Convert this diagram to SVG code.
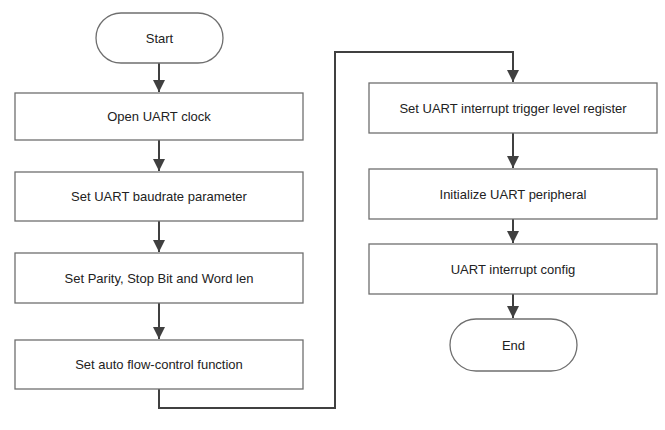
<svg xmlns="http://www.w3.org/2000/svg" width="665" height="430" viewBox="0 0 665 430">
<style>
.box{fill:#fff;stroke:#6f6f6f;stroke-width:1.3}
.t{font-family:"Liberation Sans",Arial,sans-serif;font-size:13px;fill:#222;text-anchor:middle;dominant-baseline:central}
.c{fill:none;stroke:#404040;stroke-width:2}
</style>
<defs>
<marker id="ah" markerWidth="12" markerHeight="12" viewBox="0 0 12 12" refX="12" refY="6" orient="auto" markerUnits="userSpaceOnUse">
<path d="M0,0 L12,6 L0,12 Z" fill="#404040"/>
</marker>
</defs>
<rect width="665" height="430" fill="#fff"/>
<g id="connectors">
<line class="c" x1="159" y1="63" x2="159" y2="92" marker-end="url(#ah)"/>
<line class="c" x1="159" y1="140" x2="159" y2="171" marker-end="url(#ah)"/>
<line class="c" x1="159" y1="221" x2="159" y2="252" marker-end="url(#ah)"/>
<line class="c" x1="159" y1="303" x2="159" y2="339" marker-end="url(#ah)"/>
<polyline class="c" points="159,389 159,408 335,408 335,52 513,52 513,82" marker-end="url(#ah)"/>
<line class="c" x1="513" y1="133" x2="513" y2="168" marker-end="url(#ah)"/>
<line class="c" x1="513" y1="219" x2="513" y2="243" marker-end="url(#ah)"/>
<line class="c" x1="513" y1="294" x2="513" y2="318" marker-end="url(#ah)"/>
</g>
<g id="start">
<rect class="box" x="96" y="13" width="127" height="50" rx="25"/>
<text class="t" x="159.5" y="38">Start</text>
</g>
<g id="n1">
<rect class="box" x="15" y="93" width="288" height="47"/>
<text class="t" x="159" y="116.5">Open UART clock</text>
</g>
<g id="n2">
<rect class="box" x="15" y="172" width="288" height="49"/>
<text class="t" x="159" y="196.5">Set UART baudrate parameter</text>
</g>
<g id="n3">
<rect class="box" x="15" y="253" width="288" height="50"/>
<text class="t" x="159" y="278">Set Parity, Stop Bit and Word len</text>
</g>
<g id="n4">
<rect class="box" x="15" y="340" width="288" height="49"/>
<text class="t" x="159" y="364.5">Set auto flow-control function</text>
</g>
<g id="n5">
<rect class="box" x="369" y="83" width="288" height="50"/>
<text class="t" x="513" y="108">Set UART interrupt trigger level register</text>
</g>
<g id="n6">
<rect class="box" x="369" y="169" width="288" height="50"/>
<text class="t" x="513" y="194">Initialize UART peripheral</text>
</g>
<g id="n7">
<rect class="box" x="369" y="244" width="288" height="50"/>
<text class="t" x="513" y="269">UART interrupt config</text>
</g>
<g id="end">
<rect class="box" x="450" y="319" width="127" height="52" rx="26"/>
<text class="t" x="513.5" y="345">End</text>
</g>
</svg>
